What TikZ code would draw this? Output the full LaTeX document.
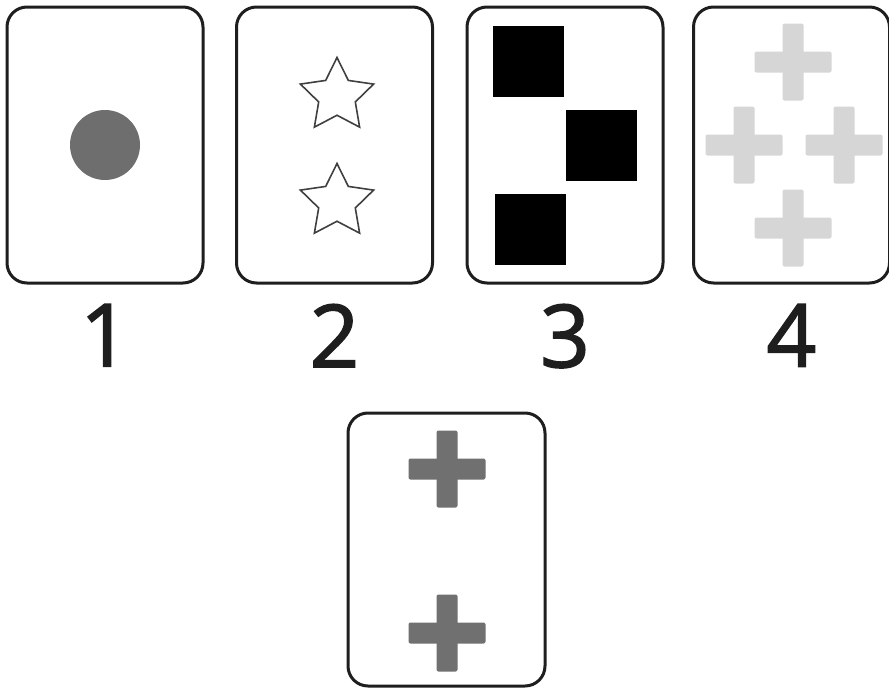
\documentclass[tikz,border=0pt]{standalone}
\usepackage{fontspec}
\setsansfont{Open Sans}
\newfontfamily\numfont{Open Sans}[FakeBold=1.8]
\usetikzlibrary{positioning,shapes.geometric}
\definecolor{CardInk}{RGB}{30,30,30}
\definecolor{DotGray}{RGB}{110,110,110}
\definecolor{PaleCross}{RGB}{214,214,214}
\definecolor{DarkCross}{RGB}{112,112,112}
\tikzset{
  card/.style={
    draw=CardInk,
    line width=3pt,
    rounded corners=20pt,
    fill=white,
    minimum width=196pt,
    minimum height=276pt,
    inner sep=0pt
  },
  card label/.style={font=\fontsize{87}{90}\selectfont\numfont, text=CardInk, inner sep=0pt},
  spot/.style={circle, fill=DotGray, minimum size=70pt, inner sep=0pt},
  star mark/.style={star, star points=5, star point ratio=2, draw=CardInk!85, line width=1.6pt, fill=white, minimum size=77pt, inner sep=0pt},
  block/.style={fill=black, minimum size=71pt, inner sep=0pt},
  pics/plus/.style={code={
    \fill[#1, rounded corners=2pt] (-38.5,-10.5) rectangle (38.5,10.5);
    \fill[#1, rounded corners=2pt] (-10.5,-38.5) rectangle (10.5,38.5);
  }}
}
\begin{document}
\begin{tikzpicture}[x=1pt, y=-1pt]
\useasboundingbox (0,0) rectangle (889,688);
% four cards on top
\node[card] (card1) at (105,145) {};
\node[card] (card2) at (334.5,145) {};
\node[card] (card3) at (565,145) {};
\node[card] (card4) at (791.5,145) {};
\node[card, minimum width=197pt, minimum height=273pt] (target) at (446.5,549.5) {};
% numbers
\node[card label, below=19.5pt of card1] (num1) {1};
\node[card label, below=19.5pt of card2] (num2) {2};
\node[card label, below=19.5pt of card3] (num3) {3};
\node[card label, below=19.5pt of card4] (num4) {4};
% card 1
\node[spot] (dot) at (card1) {};
% card 2
\node[star mark] (starA) at (337,96) {};
\node[star mark] (starB) at (337,202) {};
% card 3
\node[block] (sqA) at (528.5,61.5) {};
\node[block] (sqB) at (601,145) {};
\node[block] (sqC) at (530,229.5) {};
% card 4
\foreach \px/\py in {793/62, 744/145, 844/145, 793/228}
  \pic at (\px,\py) {plus=PaleCross};
% bottom card
\pic at (447,469) {plus=DarkCross};
\pic at (447,633) {plus=DarkCross};
\end{tikzpicture}
\end{document}
